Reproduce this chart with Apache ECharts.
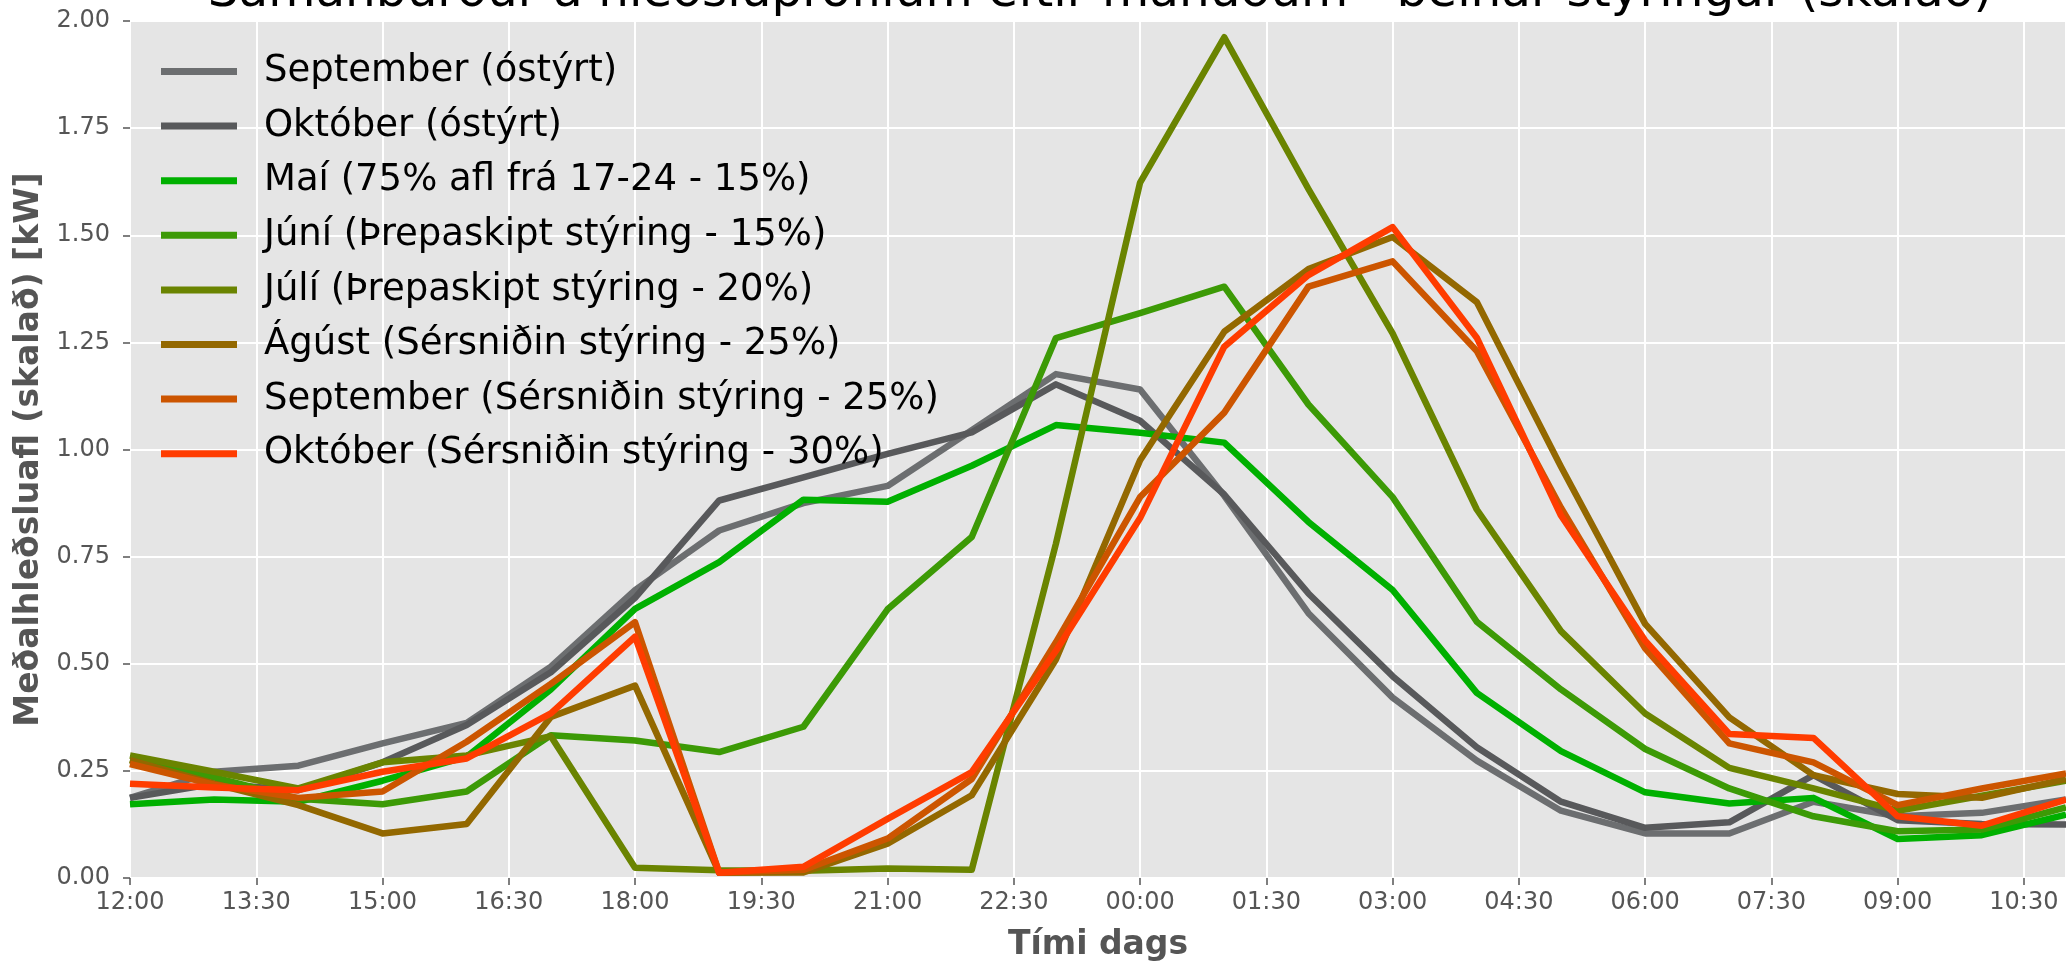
<!DOCTYPE html>
<html>
<head>
<meta charset="utf-8">
<script src="https://cdn.jsdelivr.net/npm/echarts@6/dist/echarts.min.js"></script>
<style>
html,body{margin:0;padding:0;background:#fff;}
#chart{width:2066px;height:967px;}
</style>
</head>
<body>
<div id="chart"></div>
<script>
const times = ['12:00','13:00','14:00','15:00','16:00','17:00','18:00','19:00','20:00','21:00','22:00','23:00',
               '00:00','01:00','02:00','03:00','04:00','05:00','06:00','07:00','08:00','09:00','10:00','11:00'];
const xTickLabels = ['12:00','13:30','15:00','16:30','18:00','19:30','21:00','22:30','00:00','01:30','03:00','04:30','06:00','07:30','09:00','10:30'];

const sepOstyrt = [0.187,0.248,0.262,0.314,0.362,0.493,0.672,0.811,0.875,0.915,1.045,1.176,1.140,0.892,0.618,0.421,0.274,0.157,0.104,0.104,0.178,0.144,0.152,0.183];
const oktOstyrt = [0.187,0.220,0.205,0.270,0.357,0.480,0.654,0.881,0.935,0.990,1.040,1.152,1.067,0.895,0.664,0.471,0.305,0.178,0.117,0.130,0.240,0.135,0.126,0.125];
const mai       = [0.172,0.183,0.178,0.227,0.283,0.440,0.628,0.737,0.883,0.878,0.962,1.057,1.039,1.016,0.831,0.672,0.432,0.296,0.200,0.174,0.187,0.091,0.100,0.148];
const juni      = [0.275,0.235,0.185,0.172,0.202,0.333,0.321,0.294,0.353,0.627,0.796,1.260,1.318,1.380,1.105,0.889,0.598,0.440,0.301,0.209,0.144,0.109,0.113,0.165];
const juli      = [0.286,0.248,0.209,0.270,0.286,0.331,0.024,0.018,0.017,0.022,0.019,0.780,1.623,1.962,1.608,1.271,0.860,0.576,0.384,0.257,0.209,0.157,0.192,0.227];
const agust     = [0.275,0.220,0.170,0.104,0.126,0.376,0.449,0.012,0.013,0.080,0.193,0.510,0.975,1.275,1.421,1.496,1.344,0.960,0.593,0.375,0.240,0.196,0.187,0.231];
const sepStyrt  = [0.266,0.218,0.187,0.202,0.318,0.453,0.597,0.012,0.019,0.092,0.231,0.550,0.889,1.086,1.380,1.439,1.230,0.864,0.536,0.314,0.270,0.170,0.209,0.244];
const oktStyrt  = [0.220,0.211,0.205,0.248,0.279,0.384,0.563,0.012,0.026,0.138,0.247,0.530,0.840,1.240,1.407,1.519,1.261,0.846,0.554,0.336,0.327,0.144,0.122,0.183];

const seriesNames = [
  'September (óstýrt)',
  'Október (óstýrt)',
  'Maí (75% afl frá 17-24 - 15%)',
  'Júní (Þrepaskipt stýring - 15%)',
  'Júlí (Þrepaskipt stýring - 20%)',
  'Ágúst (Sérsniðin stýring - 25%)',
  'September (Sérsniðin stýring - 25%)',
  'Október (Sérsniðin stýring - 30%)'
];
const seriesValues = [sepOstyrt, oktOstyrt, mai, juni, juli, agust, sepStyrt, oktStyrt];
const seriesColors = ['#6c6e70','#58595b','#00b000','#3c9a06','#6a8400','#936800','#cc5500','#ff3c00'];

const titleText = 'Samanburður á hleðsluprófílum eftir mánuðum - beinar stýringar (skalað)';
const FONT = 'DejaVu Sans';

const chart = echarts.init(document.getElementById('chart'), null, {renderer:'canvas'});
const option = {
  animation: false,
  backgroundColor: '#ffffff',
  graphic: [{
    type: 'text',
    x: 1100, y: -7,
    style: {
      text: titleText,
      fontFamily: FONT, fontSize: 48.5,
      fill: '#000000',
      align: 'center', verticalAlign: 'middle'
    }
  }],
  grid: {
    left: 130, right: -11, top: 21, bottom: 84,
    show: true, backgroundColor: '#e5e5e5', borderWidth: 0
  },
  legend: {
    orient: 'vertical',
    left: 156, top: 48,
    icon: 'rect',
    itemWidth: 76, itemHeight: 7,
    itemGap: 17.6,
    textStyle: { fontFamily: FONT, fontSize: 37, lineHeight: 37, color: '#000', padding: [0,0,0,22] },
    data: seriesNames
  },
  xAxis: {
    type: 'value',
    min: 0, max: 23, interval: 1.5,
    name: 'Tími dags',
    nameLocation: 'middle',
    nameGap: 51,
    nameTextStyle: { fontFamily: FONT, fontSize: 33, fontWeight: 'bold', color: '#555555' },
    axisLine: { show: false },
    axisTick: { show: true, length: 7, lineStyle: { color: '#555555', width: 1.5 } },
    axisLabel: {
      fontFamily: FONT, fontSize: 24, color: '#555555', margin: 13,
      showMaxLabel: false,
      formatter: function (v) {
        const i = Math.round(v / 1.5);
        return (Math.abs(v - i * 1.5) < 1e-6 && xTickLabels[i] !== undefined) ? xTickLabels[i] : '';
      }
    },
    splitLine: { show: true, lineStyle: { color: '#ffffff', width: 2 } }
  },
  yAxis: {
    type: 'value',
    min: 0, max: 2, interval: 0.25,
    name: 'Meðalhleðsluafl (skalað) [kW]',
    nameLocation: 'middle',
    nameGap: 84,
    nameTextStyle: { fontFamily: FONT, fontSize: 33, fontWeight: 'bold', color: '#555555' },
    axisLine: { show: false },
    axisTick: { show: true, length: 7, lineStyle: { color: '#555555', width: 1.5 } },
    axisLabel: {
      fontFamily: FONT, fontSize: 24, color: '#555555', margin: 20,
      formatter: function (v) { return v.toFixed(2); }
    },
    splitLine: { show: true, lineStyle: { color: '#ffffff', width: 2 } }
  },
  series: seriesNames.map(function (name, k) {
    return {
      name: name,
      type: 'line',
      showSymbol: false,
      symbol: 'none',
      color: seriesColors[k],
      lineStyle: { width: 6.5, color: seriesColors[k], join: 'round', cap: 'butt' },
      data: seriesValues[k].map(function (v, i) { return [i, v]; })
    };
  })
};
chart.setOption(option);
</script>
</body>
</html>
